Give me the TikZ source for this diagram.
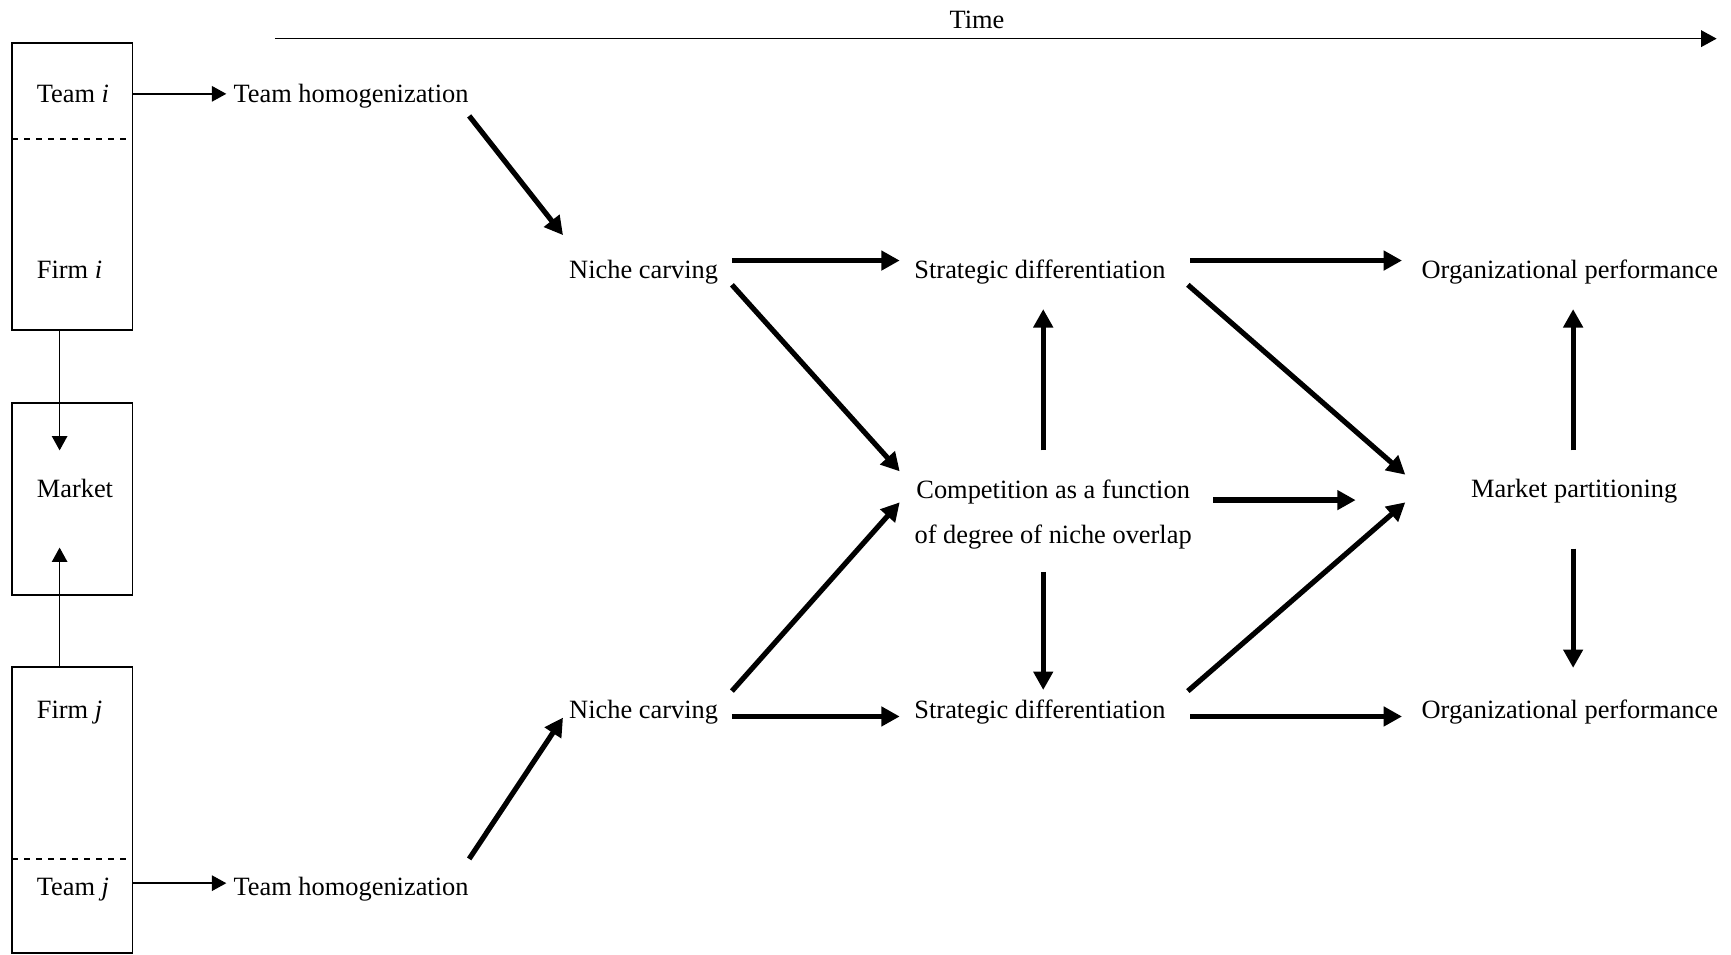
\documentclass[tikz,border=0pt]{standalone}
\usepackage{fontspec}
\setmainfont{Liberation Serif}
\usetikzlibrary{arrows.meta,calc,fit}
\begin{document}
\begin{tikzpicture}[x=0.552pt,y=-0.552pt,
  lbl/.style={inner sep=0pt, font=\fontsize{13.2pt}{16pt}\selectfont},
  thk/.style={line width=2.6pt, -{Triangle[length=9.2pt,width=9.5pt]}},
  thn/.style={line width=0.8pt, -{Triangle[length=7.2pt,width=7.7pt]}},
  tarr/.style={line width=0.85pt, -{Triangle[length=7.8pt,width=8.3pt]}},
  boxst/.style={draw, line width=0.9pt, inner sep=0pt, outer sep=0pt},
  sep/.style={line width=0.9pt, dash pattern=on 3pt off 3pt}]
\useasboundingbox (0,0) rectangle (1568,865);

% time axis
\node[lbl, anchor=base] (time) at (885,26) {Time};
\coordinate (t0) at (249,35);
\coordinate (t1) at (1555,35);
\draw[tarr] (t0) -- (t1);

% boxes
\node[boxst, fit={(11,39) (120,299)}] (boxi) {};
\node[boxst, fit={(11,365) (120,539)}] (boxm) {};
\node[boxst, fit={(11,604) (120,863)}] (boxj) {};
\draw[sep] ($(boxi.north west)+(0,87)$) -- ($(boxi.north east)+(0,87)$);
\draw[sep] ($(boxj.north west)+(0,174)$) -- ($(boxj.north east)+(0,174)$);

\node[lbl, anchor=base west] (teami) at (33,93) {Team \textit{i}};
\node[lbl, anchor=base west] (firmi) at (33,252) {Firm \textit{i}};
\node[lbl, anchor=base west] (market) at (33,451) {Market};
\node[lbl, anchor=base west] (firmj) at (33,651) {Firm \textit{j}};
\node[lbl, anchor=base west] (teamj) at (33,811) {Team \textit{j}};

% text nodes
\node[lbl, anchor=base] (THi) at (318,93) {Team homogenization};
\node[lbl, anchor=base] (THj) at (318,811) {Team homogenization};
\node[lbl, anchor=base] (NCi) at (583,252) {Niche carving};
\node[lbl, anchor=base] (NCj) at (583,651) {Niche carving};
\node[lbl, anchor=base] (SDi) at (942,252) {Strategic differentiation};
\node[lbl, anchor=base] (SDj) at (942,651) {Strategic differentiation};
\node[lbl, align=center, font=\fontsize{13.2pt}{22.6pt}\selectfont] (comp) at (954,466) {Competition as a function\\of degree of niche overlap};
\node[lbl, anchor=base] (MP) at (1426,451) {Market partitioning};
\node[lbl, anchor=base] (OPi) at (1422,252) {Organizational performance};
\node[lbl, anchor=base] (OPj) at (1422,651) {Organizational performance};

% thin arrows
\draw[thn] ($(boxi.north east)+(0,46)$) -- ($(THi.base)+(-113,-8)$);
\draw[thn] ($(boxj.north east)+(0,196)$) -- ($(THj.base)+(-113,-11)$);
\draw[thn] ($(boxi.south west)+(43,0)$) -- ($(boxm.north west)+(43,43)$);
\draw[thn] ($(boxj.north west)+(43,0)$) -- ($(boxm.south west)+(43,-43)$);

% thick arrows
\draw[thk] ($(THi.base)+(107,12)$) -- ($(NCi.base)+(-73,-39)$);
\draw[thk] ($(THj.base)+(107,-33)$) -- ($(NCj.base)+(-73,-1)$);
\draw[thk] ($(NCi.base)+(80,-16)$) -- ($(SDi.base)+(-127,-16)$);
\draw[thk] ($(NCi.base)+(80,6)$) -- ($(comp.center)+(-139,-39)$);
\draw[thk] ($(NCj.base)+(80,-25)$) -- ($(comp.center)+(-139,-11)$);
\draw[thk] ($(NCj.base)+(80,-2)$) -- ($(SDj.base)+(-127,-2)$);
\draw[thk] ($(comp.center)+(-9,-58)$) -- ($(SDi.base)+(3,28)$);
\draw[thk] ($(comp.center)+(-9,52)$) -- ($(SDj.base)+(3,-26)$);
\draw[thk] ($(SDi.base)+(136,-16)$) -- ($(OPi.base)+(-152,-16)$);
\draw[thk] ($(SDi.base)+(134,6)$) -- ($(MP.base)+(-153,-21)$);
\draw[thk] ($(comp.center)+(145,-13)$) -- ($(MP.base)+(-198,2)$);
\draw[thk] ($(SDj.base)+(134,-25)$) -- ($(MP.base)+(-153,4)$);
\draw[thk] ($(SDj.base)+(136,-2)$) -- ($(OPj.base)+(-152,-2)$);
\draw[thk] ($(MP.base)+(-1,-43)$) -- ($(OPi.base)+(3,28)$);
\draw[thk] ($(MP.base)+(-1,46)$) -- ($(OPj.base)+(3,-46)$);
\end{tikzpicture}
\end{document}
